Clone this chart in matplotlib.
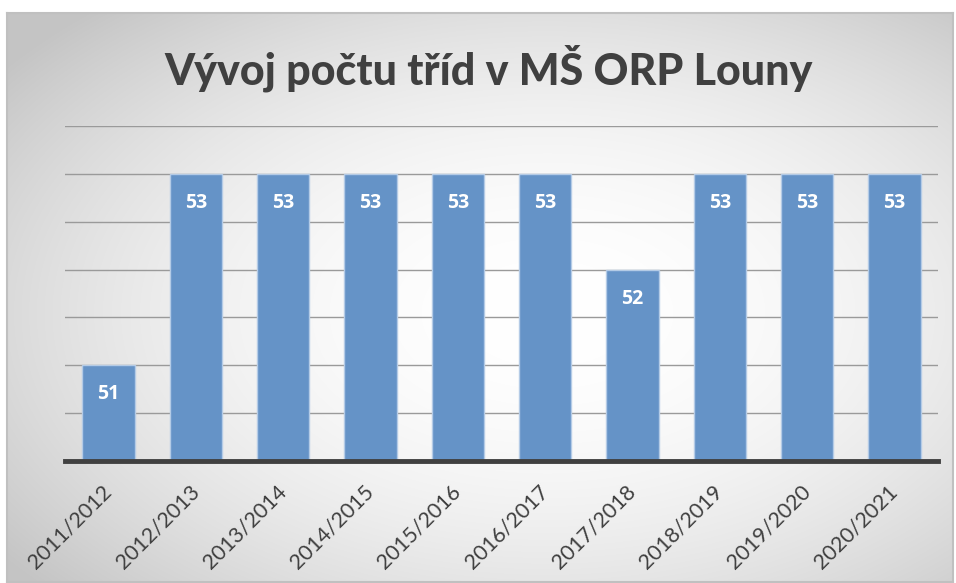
import numpy as np
import matplotlib
matplotlib.use("Agg")
from matplotlib import pyplot as plt

years = ["2011/2012", "2012/2013", "2013/2014", "2014/2015", "2015/2016",
         "2016/2017", "2017/2018", "2018/2019", "2019/2020", "2020/2021"]
classes = [51, 53, 53, 53, 53, 53, 52, 53, 53, 53]

plt.rcParams['font.family'] = ['Lato', 'DejaVu Sans']

W, H = 956, 583
fig = plt.figure(figsize=(W / 100, H / 100), dpi=100)
fig.patch.set_facecolor("white")

# radial gradient background of the chart frame
bg = fig.add_axes([7 / W, 1 - 582 / H, 946 / W, 569 / H])
yy, xx = np.mgrid[0:569, 0:946]
r = np.sqrt(((xx - 540) / 700.0) ** 2 + ((yy - 300) / 420.0) ** 2)
grey = np.clip(255 - 62 * r ** 2, 196, 255) / 255.0
bg.imshow(np.dstack([grey, grey, grey]), aspect="auto", interpolation="bilinear")
bg.set_xticks([])
bg.set_yticks([])
for s in bg.spines.values():
    s.set_color("#c0c0c0")
    s.set_linewidth(1.5)

ax = fig.add_axes([65 / W, 1 - 461 / H, 873 / W, 335 / H])
ax.patch.set_alpha(0)
x = np.arange(len(years))
ax.bar(x, classes, width=0.6, color="#6593c7", edgecolor="#b4cbe6", linewidth=1, zorder=3)
ax.set_xlim(-0.5, len(years) - 0.5)
ax.set_ylim(50, 53.5)
ax.set_yticks(np.arange(50, 53.51, 0.5))
ax.yaxis.grid(True, color="#9a9a9a", linewidth=1)
ax.set_axisbelow(True)
ax.tick_params(axis="y", left=False, labelleft=False)
ax.tick_params(axis="x", length=0, pad=20)
ax.set_xticks(x)
ax.set_xticklabels(years, rotation=45, ha="right", va="center",
                   rotation_mode="anchor", fontsize=15.5, color="#404040")
for name in ["top", "right", "left"]:
    ax.spines[name].set_visible(False)
ax.spines["bottom"].set_color("#404040")
ax.spines["bottom"].set_linewidth(3.5)
ax.spines["bottom"].set_zorder(4)

for xi, v in zip(x, classes):
    ax.annotate(str(v), (xi, v), xytext=(0, -21), textcoords="offset points",
                ha="center", va="center", color="white", fontsize=14,
                fontweight="bold", family="Open Sans", zorder=5)

fig.text(489 / W, 1 - 68 / H, "Vývoj počtu tříd v MŠ ORP Louny",
         ha="center", va="center", fontsize=31, fontweight="black", color="#404040")

fig.savefig("out.png", dpi=100)
